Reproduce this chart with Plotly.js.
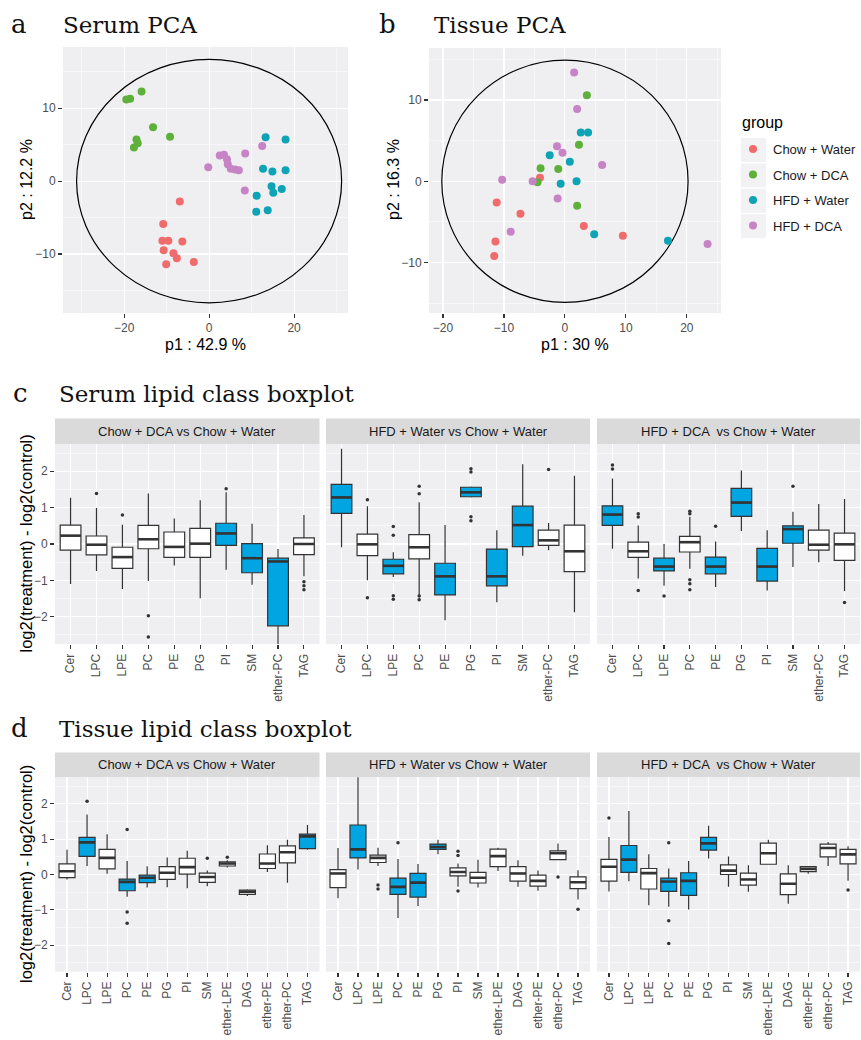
<!DOCTYPE html>
<html><head><meta charset="utf-8">
<script src="https://cdn.plot.ly/plotly-3.0.1.min.js"></script>
<style>html,body{margin:0;padding:0;background:#fff}#chart{width:861px;height:1040px}</style>
</head><body><div id="chart"></div>
<script>
// ---------------- DATA ----------------
const groups = ['Chow + Water','Chow + DCA','HFD + Water','HFD + DCA'];
const groupColors = ['#F06B6B','#5DB13A','#0EA3B5','#C684C6'];

// Serum PCA scores
const sCW_x = [-6.9,-10.8,-11.0,-9.6,-6.3,-10.7,-8.4,-7.6,-10.1,-3.6];
const sCW_y = [-2.8,-5.9,-8.2,-8.2,-8.3,-9.5,-9.9,-10.6,-11.4,-11.1];
const sCD_x = [-19.5,-18.6,-15.9,-13.2,-9.2,-17.1,-16.8,-17.7];
const sCD_y = [11.2,11.3,12.3,7.4,6.1,5.7,5.2,4.6];
const sHW_x = [13.3,18.0,12.7,14.9,18.0,14.7,15.1,17.1,11.2,11.1,13.8];
const sHW_y = [6.0,5.7,1.7,1.3,1.5,-0.7,-1.6,-1.1,-2.0,-4.2,-4.0];
const sHD_x = [-0.2,2.5,3.5,4.2,4.4,5.1,6.1,7.0,8.5,8.4,12.5];
const sHD_y = [1.9,3.5,3.6,3.0,2.3,1.7,1.6,1.5,3.8,-1.3,4.8];

// Tissue PCA scores
const tCW_x = [-4.1,-11.2,-7.3,-11.4,-11.6,3.1,9.5];
const tCW_y = [0.45,-2.6,-4.0,-7.4,-9.2,-5.5,-6.7];
const tCD_x = [3.6,2.3,-4.0,-1.1,-4.5,2.0];
const tCD_y = [10.6,4.5,1.6,1.5,-0.1,-3.0];
const tHW_x = [2.6,3.8,-2.5,0.8,-0.7,1.9,4.8,16.9];
const tHW_y = [6.0,6.0,3.2,2.4,-0.3,0.0,-6.5,-7.3];
const tHD_x = [1.5,2.0,-1.3,-0.4,6.1,-10.3,-5.3,-1.2,-8.9,23.4];
const tHD_y = [13.4,8.9,4.3,3.5,2.0,0.2,0.0,-2.1,-6.2,-7.7];

// Hotelling ellipse radii (x, y) in score units
const serumEllipse = [31.2, 16.7];
const tissueEllipse = [20.2, 14.9];

// Serum lipid class boxplot
const serumCats = ['Cer','LPC','LPE','PC','PE','PG','PI','SM','ether-PC','TAG'];
const panelTitles = ['Chow + DCA vs Chow + Water','HFD + Water vs Chow + Water','HFD + DCA  vs Chow + Water'];

const sb1_lo  = [-1.10,-0.74,-1.24,-1.02,-0.59,-1.49,-0.71,-1.12,-2.85,-0.89];
const sb1_q1  = [-0.17,-0.30,-0.67,-0.13,-0.37,-0.37,-0.04,-0.79,-2.25,-0.29];
const sb1_med = [0.23,-0.02,-0.36,0.13,-0.08,0.01,0.29,-0.39,-0.48,0.00];
const sb1_q3  = [0.52,0.22,-0.09,0.51,0.33,0.43,0.57,0.01,-0.39,0.17];
const sb1_hi  = [1.27,0.99,0.53,1.39,0.70,1.20,1.42,0.56,-0.14,0.80];
const sb1_sig = [0,0,0,0,0,0,1,1,1,0];
const sb1_outCat = ['LPC','LPE','PC','PC','PI','TAG','TAG','TAG'];
const sb1_outVal = [1.39,0.80,-1.97,-2.56,1.52,-1.04,-1.15,-1.26];

const sb2_lo  = [-0.09,-1.00,-0.91,-1.40,-2.10,1.28,-1.60,-0.32,-0.17,-1.88];
const sb2_q1  = [0.84,-0.32,-0.82,-0.41,-1.40,1.30,-1.15,-0.07,-0.04,-0.76];
const sb2_med = [1.28,-0.01,-0.60,-0.09,-0.89,1.42,-0.89,0.52,0.10,-0.20];
const sb2_q3  = [1.64,0.27,-0.42,0.26,-0.53,1.56,-0.14,1.04,0.38,0.52];
const sb2_hi  = [2.62,1.04,-0.23,1.15,0.52,1.58,0.38,2.19,0.58,1.88];
const sb2_sig = [1,0,1,0,1,1,1,1,0,0];
const sb2_outCat = ['LPC','LPC','LPE','LPE','LPE','LPE','PC','PC','PC','PC','PG','PG','PG','PG','ether-PC'];
const sb2_outVal = [1.22,-1.48,0.48,0.24,-1.42,-1.52,1.59,1.38,-1.43,-1.53,2.07,1.98,0.75,0.64,2.05];

const sb3_lo  = [-0.13,-0.95,-1.15,-0.68,-1.18,0.36,-1.28,-0.63,-0.50,-1.29];
const sb3_q1  = [0.51,-0.37,-0.74,-0.22,-0.82,0.76,-1.02,0.02,-0.17,-0.45];
const sb3_med = [0.81,-0.20,-0.62,0.05,-0.62,1.14,-0.62,0.41,-0.02,-0.01];
const sb3_q3  = [1.05,0.05,-0.39,0.21,-0.36,1.53,-0.12,0.50,0.38,0.30];
const sb3_hi  = [1.80,0.51,0.00,0.75,0.07,2.02,0.38,0.89,1.10,1.24];
const sb3_sig = [1,0,1,0,1,1,1,1,0,0];
const sb3_outCat = ['Cer','Cer','LPC','LPC','LPC','LPE','PC','PC','PC','PC','PC','PE','SM','TAG'];
const sb3_outVal = [2.17,2.06,0.83,0.74,-1.28,-1.43,0.90,0.83,-0.98,-1.09,-1.26,0.49,1.59,-1.61];

// Tissue lipid class boxplot
const tissueCats = ['Cer','LPC','LPE','PC','PE','PG','PI','SM','ether-LPE','DAG','ether-PE','ether-PC','TAG'];

const tb1_lo  = [-0.14,0.24,0.02,-0.63,-0.37,-0.36,-0.39,-0.33,0.20,-0.61,0.07,-0.23,0.70];
const tb1_q1  = [-0.09,0.51,0.16,-0.46,-0.23,-0.14,0.01,-0.22,0.24,-0.56,0.17,0.33,0.73];
const tb1_med = [0.09,0.91,0.47,-0.21,-0.09,0.05,0.21,-0.07,0.31,-0.49,0.31,0.63,1.08];
const tb1_q3  = [0.30,1.05,0.71,-0.13,-0.02,0.22,0.46,0.04,0.36,-0.44,0.58,0.81,1.14];
const tb1_hi  = [0.70,1.70,1.14,0.38,0.23,0.48,0.67,0.11,0.40,-0.42,0.83,0.98,1.40];
const tb1_sig = [0,1,0,1,1,0,0,0,0,0,0,0,1];
const tb1_outCat = ['LPC','PC','PC','PC','SM','ether-LPE'];
const tb1_outVal = [2.07,1.27,-1.06,-1.38,0.46,0.49];

const tb2_lo  = [-0.67,0.14,0.24,-1.23,-0.89,0.57,-0.35,-0.37,0.10,-0.35,-0.46,0.40,-0.71];
const tb2_q1  = [-0.37,0.47,0.34,-0.56,-0.64,0.71,-0.04,-0.24,0.22,-0.19,-0.33,0.42,-0.40];
const tb2_med = [0.03,0.71,0.47,-0.35,-0.23,0.78,0.07,-0.09,0.52,0.03,-0.18,0.60,-0.22];
const tb2_q3  = [0.14,1.40,0.55,-0.10,0.03,0.86,0.19,0.06,0.72,0.22,-0.02,0.67,-0.07];
const tb2_hi  = [0.75,2.80,0.76,0.44,0.30,0.98,0.31,0.42,0.76,0.40,0.11,0.88,0.12];
const tb2_sig = [0,1,0,1,1,1,0,0,0,0,0,0,0];
const tb2_outCat = ['LPE','LPE','PC','PI','PI','PI','ether-PC','TAG'];
const tb2_outVal = [-0.30,-0.41,0.90,0.66,0.54,-0.47,-0.07,-0.98];

const tb3_lo  = [-0.48,-0.19,-0.87,-0.91,-0.99,0.45,-0.35,-0.49,0.29,-0.83,0.02,0.24,-0.18];
const tb3_q1  = [-0.19,0.06,-0.41,-0.48,-0.59,0.69,0.00,-0.30,0.29,-0.57,0.08,0.50,0.30];
const tb3_med = [0.22,0.42,0.04,-0.20,-0.18,0.88,0.11,-0.14,0.60,-0.26,0.16,0.75,0.57];
const tb3_q3  = [0.43,0.82,0.17,-0.10,0.05,1.05,0.27,0.04,0.89,0.02,0.22,0.86,0.71];
const tb3_hi  = [1.06,1.80,0.57,0.17,0.38,1.38,0.51,0.26,0.98,0.26,0.22,0.92,0.80];
const tb3_sig = [0,1,0,1,1,1,0,0,0,0,0,0,0];
const tb3_outCat = ['Cer','PC','PC','PC','TAG'];
const tb3_outVal = [1.60,0.90,-1.31,-1.95,-0.44];

// ---------------- LAYOUT HELPERS ----------------
const W = 861, H = 1040;
const px = v => v / W;
const py = v => 1 - v / H;
const SANS = 'Liberation Sans, Arial, sans-serif';
const SERIF = 'DejaVu Serif, serif';
const BG = '#EFEFF1';
const BLUE = '#00A5E2';
const DARK = '#333333';
const TICKC = '#4D4D4D';

const traces = [];
const shapes = [];
const annotations = [];

// PCA scatters
const sPCA = [[sCW_x,sCW_y],[sCD_x,sCD_y],[sHW_x,sHW_y],[sHD_x,sHD_y]];
const tPCA = [[tCW_x,tCW_y],[tCD_x,tCD_y],[tHW_x,tHW_y],[tHD_x,tHD_y]];
sPCA.forEach((d,i)=>traces.push({type:'scatter',mode:'markers',x:d[0],y:d[1],name:groups[i],
  legendgroup:'g'+i,marker:{size:8,color:groupColors[i]},xaxis:'x',yaxis:'y',hoverinfo:'skip',showlegend:true}));
tPCA.forEach((d,i)=>traces.push({type:'scatter',mode:'markers',x:d[0],y:d[1],name:groups[i],
  legendgroup:'g'+i,marker:{size:8,color:groupColors[i]},xaxis:'x2',yaxis:'y2',hoverinfo:'skip',showlegend:false}));

shapes.push({type:'circle',xref:'x',yref:'y',x0:-serumEllipse[0],x1:serumEllipse[0],y0:-serumEllipse[1],y1:serumEllipse[1],
  line:{color:'#000',width:1.2},layer:'between'});
shapes.push({type:'circle',xref:'x2',yref:'y2',x0:-tissueEllipse[0],x1:tissueEllipse[0],y0:-tissueEllipse[1],y1:tissueEllipse[1],
  line:{color:'#000',width:1.2},layer:'between'});

function addBoxPanel(cats, lo,q1,med,q3,hi,sig,outCat,outVal, n){
  const xa='x'+n, ya='y'+n;
  [0,1].forEach(s=>{
    const idx = cats.map((c,i)=>i).filter(i=>sig[i]===s);
    if(!idx.length) return;
    traces.push({type:'box',x:idx.map(i=>cats[i]),lowerfence:idx.map(i=>lo[i]),q1:idx.map(i=>q1[i]),
      median:idx.map(i=>med[i]),q3:idx.map(i=>q3[i]),upperfence:idx.map(i=>hi[i]),
      xaxis:xa,yaxis:ya,fillcolor:s?BLUE:'#FFFFFF',line:{color:DARK,width:1.2},whiskerwidth:0,width:0.8,
      boxpoints:false,hoverinfo:'skip',showlegend:false});
  });
  traces.push({type:'scatter',mode:'markers',x:outCat,y:outVal,xaxis:xa,yaxis:ya,
    marker:{size:3.5,color:DARK},hoverinfo:'skip',showlegend:false});
  cats.forEach((c,i)=>shapes.push({type:'line',xref:xa,yref:ya,x0:i-0.4,x1:i+0.4,y0:med[i],y1:med[i],
    line:{color:DARK,width:2.6},layer:'above'}));
  // strip
  shapes.push({type:'rect',xref:xa+' domain',yref:ya+' domain',x0:0,x1:1,y0:1,y1:1.127,
    fillcolor:'#DADADA',line:{width:0},layer:'below'});
}
addBoxPanel(serumCats,sb1_lo,sb1_q1,sb1_med,sb1_q3,sb1_hi,sb1_sig,sb1_outCat,sb1_outVal,3);
addBoxPanel(serumCats,sb2_lo,sb2_q1,sb2_med,sb2_q3,sb2_hi,sb2_sig,sb2_outCat,sb2_outVal,4);
addBoxPanel(serumCats,sb3_lo,sb3_q1,sb3_med,sb3_q3,sb3_hi,sb3_sig,sb3_outCat,sb3_outVal,5);
addBoxPanel(tissueCats,tb1_lo,tb1_q1,tb1_med,tb1_q3,tb1_hi,tb1_sig,tb1_outCat,tb1_outVal,6);
addBoxPanel(tissueCats,tb2_lo,tb2_q1,tb2_med,tb2_q3,tb2_hi,tb2_sig,tb2_outCat,tb2_outVal,7);
addBoxPanel(tissueCats,tb3_lo,tb3_q1,tb3_med,tb3_q3,tb3_hi,tb3_sig,tb3_outCat,tb3_outVal,8);

// strip labels
[3,4,5,6,7,8].forEach((n,k)=>annotations.push({xref:'x'+n+' domain',yref:'y'+n+' domain',x:0.5,y:1.0635,
  text:panelTitles[k%3],showarrow:false,xanchor:'center',yanchor:'middle',font:{family:SANS,size:13,color:'#1A1A1A'}}));

// legend key backgrounds
[150,175.4,200.8,226.2].forEach(c=>shapes.push({type:'rect',xref:'paper',yref:'paper',
  x0:px(741),x1:px(766),y0:py(c+12),y1:py(c-12),fillcolor:'#F2F2F4',line:{width:0},layer:'below'}));

// titles
function ann(text,x,y,opts){annotations.push(Object.assign({xref:'paper',yref:'paper',x:px(x),y:py(y),text:text,
  showarrow:false,xanchor:'left',yanchor:'middle'},opts));}
const letterFont={family:SERIF,size:26,color:'#111'};
const titleFont={family:SERIF,size:23,color:'#111'};
ann('a',9,24,{font:letterFont}); ann('Serum PCA',61,25,{font:titleFont});
ann('b',377,24,{font:letterFont}); ann('Tissue PCA',432,25,{font:titleFont});
ann('c',11,393,{font:letterFont}); ann('Serum lipid class boxplot',57,394,{font:titleFont});
ann('d',9,728,{font:letterFont}); ann('Tissue lipid class boxplot',57,729,{font:titleFont});
const axTitleFont={family:SANS,size:16,color:'#000'};
ann('p2 : 12.2 %',26,180,{font:axTitleFont,textangle:-90,xanchor:'center'});
ann('p1 : 42.9 %',205.5,345,{font:axTitleFont,xanchor:'center'});
ann('p2 : 16.3 %',393,180,{font:axTitleFont,textangle:-90,xanchor:'center'});
ann('p1 : 30 %',575,345,{font:axTitleFont,xanchor:'center'});
ann('log2(treatment) - log2(control)',25.5,544,{font:{family:SANS,size:16.5,color:'#000'},textangle:-90,xanchor:'center'});
ann('log2(treatment) - log2(control)',25.5,874.5,{font:{family:SANS,size:16.5,color:'#000'},textangle:-90,xanchor:'center'});
ann('group',740,122.5,{font:{family:SANS,size:16,color:'#000'}});

// axes
const tickFont={family:SANS,size:12,color:TICKC};
function numAxis(domain,range,dtick,minor,showLabels,anchor){
  return {domain:domain,anchor:anchor,range:range,dtick:dtick,tick0:0,showgrid:true,gridcolor:'#FFFFFF',gridwidth:1.1,
    zeroline:false,showline:false,ticks:showLabels?'outside':'',ticklen:4,tickwidth:1.1,tickcolor:DARK,
    showticklabels:showLabels,tickfont:tickFont,minor:{dtick:minor,tick0:0,showgrid:true,gridcolor:'#FFFFFF',gridwidth:0.5},
    fixedrange:true};
}
function catAxis(domain,cats,anchor){
  return {domain:domain,anchor:anchor,type:'category',categoryorder:'array',categoryarray:cats,range:[-0.6,cats.length-0.4],
    showgrid:true,gridcolor:'#FFFFFF',gridwidth:1.1,zeroline:false,showline:false,ticks:'outside',ticklen:4,
    tickwidth:1.1,tickcolor:DARK,tickangle:-90,tickfont:tickFont,fixedrange:true};
}
const bx = [[55,319.5],[326,590],[597,860]].map(d=>[px(d[0]),px(d[1])]);
const ySerumBox = [py(644),py(444)];
const yTissueBox = [py(971.7),py(777.3)];

const layout = {
  width:W,height:H,margin:{l:0,r:0,t:0,b:0},paper_bgcolor:'#FFFFFF',plot_bgcolor:BG,
  font:{family:SANS},showlegend:true,boxmode:'overlay',
  xaxis:numAxis([px(63),px(348)],[-34.4,32.7],20,10,true,'y'),
  yaxis:numAxis([py(313),py(47)],[-18.1,18.4],10,5,true,'x'),
  xaxis2:numAxis([px(429),px(721)],[-22.3,25.6],10,5,true,'y2'),
  yaxis2:numAxis([py(313),py(48)],[-16.2,16.4],10,5,true,'x2'),
  xaxis3:catAxis(bx[0],serumCats,'y3'), yaxis3:numAxis(ySerumBox,[-2.75,2.75],1,0.5,true,'x3'),
  xaxis4:catAxis(bx[1],serumCats,'y4'), yaxis4:numAxis(ySerumBox,[-2.75,2.75],1,0.5,false,'x4'),
  xaxis5:catAxis(bx[2],serumCats,'y5'), yaxis5:numAxis(ySerumBox,[-2.75,2.75],1,0.5,false,'x5'),
  xaxis6:catAxis(bx[0],tissueCats,'y6'), yaxis6:numAxis(yTissueBox,[-2.75,2.75],1,0.5,true,'x6'),
  xaxis7:catAxis(bx[1],tissueCats,'y7'), yaxis7:numAxis(yTissueBox,[-2.75,2.75],1,0.5,false,'x7'),
  xaxis8:catAxis(bx[2],tissueCats,'y8'), yaxis8:numAxis(yTissueBox,[-2.75,2.75],1,0.5,false,'x8'),
  legend:{x:px(733),xanchor:'left',y:py(134),yanchor:'top',bgcolor:'rgba(0,0,0,0)',
    font:{family:SANS,size:13,color:'#1A1A1A'},
    traceorder:'grouped',tracegroupgap:5.6,itemclick:false,itemdoubleclick:false},
  shapes:shapes,annotations:annotations
};
Plotly.newPlot('chart',traces,layout,{staticPlot:true,displayModeBar:false});
</script></body></html>
